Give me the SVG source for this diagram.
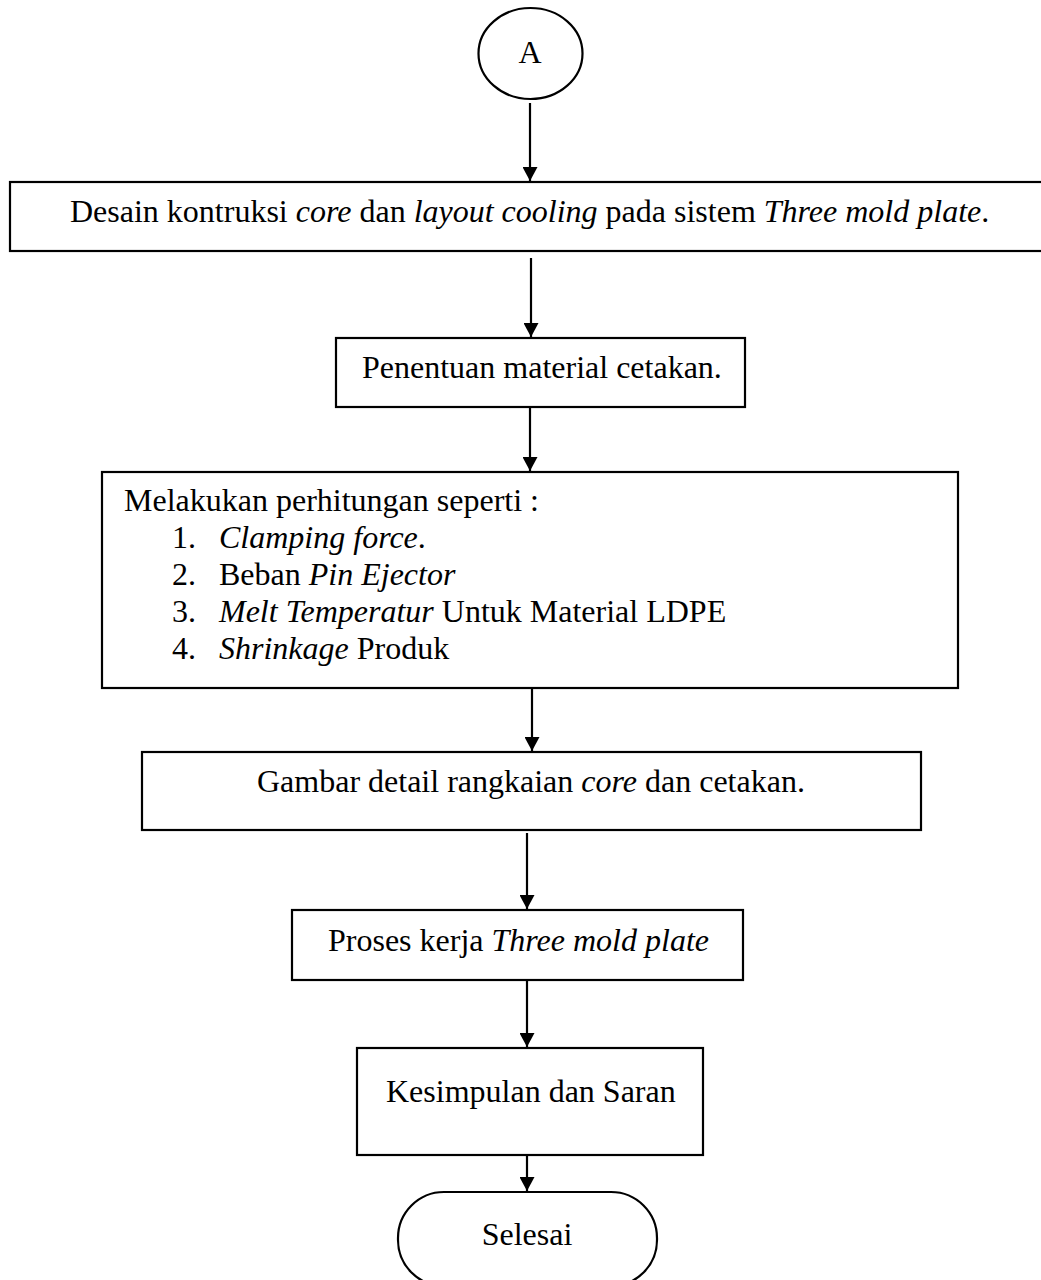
<svg xmlns="http://www.w3.org/2000/svg" width="1041" height="1280" viewBox="0 0 1041 1280">
<style>
.shape{fill:#fff;stroke:#000;stroke-width:2.2}
.conn{stroke:#000;stroke-width:2.2;fill:none}
text{font-family:"Liberation Serif","Times New Roman",serif;font-size:32px;fill:#000}
.i{font-style:italic}
</style>
<defs>
<marker id="arr" markerUnits="userSpaceOnUse" markerWidth="15" markerHeight="15" viewBox="0 0 14 15" refX="14" refY="7.5" orient="auto">
<path d="M0,0 L14,7.5 L0,15 z" fill="#000"/>
</marker>
</defs>
<rect width="1041" height="1280" fill="#fff"/>
<g id="connectors">
<line class="conn" x1="530" y1="103" x2="530" y2="181" marker-end="url(#arr)"/>
<line class="conn" x1="531" y1="258" x2="531" y2="337" marker-end="url(#arr)"/>
<line class="conn" x1="530" y1="407" x2="530" y2="471" marker-end="url(#arr)"/>
<line class="conn" x1="532" y1="688" x2="532" y2="751" marker-end="url(#arr)"/>
<line class="conn" x1="527" y1="833" x2="527" y2="909" marker-end="url(#arr)"/>
<line class="conn" x1="527" y1="980" x2="527" y2="1047" marker-end="url(#arr)"/>
<line class="conn" x1="527" y1="1155" x2="527" y2="1191" marker-end="url(#arr)"/>
</g>
<g id="node-a">
<ellipse class="shape" cx="530.5" cy="53.5" rx="52" ry="45.5"/>
<text x="530" y="63" text-anchor="middle">A</text>
</g>
<g id="node-desain">
<rect class="shape" x="10" y="182" width="1034" height="69"/>
<text x="70" y="222">Desain kontruksi <tspan class="i">core</tspan> dan <tspan class="i">layout cooling</tspan> pada sistem <tspan class="i">Three mold plate</tspan>.</text>
</g>
<g id="node-material">
<rect class="shape" x="336" y="338" width="409" height="69"/>
<text x="362" y="378">Penentuan material cetakan.</text>
</g>
<g id="node-perhitungan">
<rect class="shape" x="102" y="472" width="856" height="216"/>
<text x="124" y="511">Melakukan perhitungan seperti :</text>
<text x="172" y="548">1.</text>
<text x="219" y="548"><tspan class="i">Clamping force</tspan>.</text>
<text x="172" y="585">2.</text>
<text x="219" y="585">Beban <tspan class="i">Pin Ejector</tspan></text>
<text x="172" y="622">3.</text>
<text x="219" y="622"><tspan class="i">Melt Temperatur</tspan> Untuk Material LDPE</text>
<text x="172" y="659">4.</text>
<text x="219" y="659"><tspan class="i">Shrinkage</tspan> Produk</text>
</g>
<g id="node-gambar">
<rect class="shape" x="142" y="752" width="779" height="78"/>
<text x="257" y="792">Gambar detail rangkaian <tspan class="i">core</tspan> dan cetakan.</text>
</g>
<g id="node-proses">
<rect class="shape" x="292" y="910" width="451" height="70"/>
<text x="328" y="951">Proses kerja <tspan class="i">Three mold plate</tspan></text>
</g>
<g id="node-kesimpulan">
<rect class="shape" x="357" y="1048" width="346" height="107"/>
<text x="386" y="1102">Kesimpulan dan Saran</text>
</g>
<g id="node-selesai">
<rect class="shape" x="398" y="1192" width="259" height="94" rx="46" ry="46"/>
<text x="527" y="1245" text-anchor="middle">Selesai</text>
</g>
</svg>
